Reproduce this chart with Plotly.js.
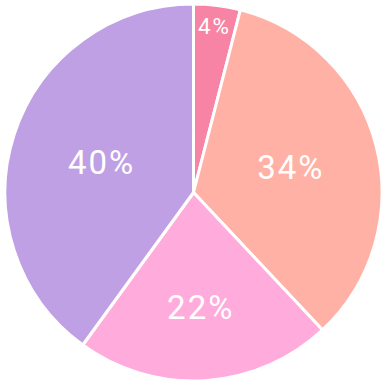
<!DOCTYPE html>
<html><head><meta charset="utf-8">
<script src="https://cdn.plot.ly/plotly-3.0.1.min.js"></script>
<style>html,body{margin:0;padding:0;background:#fff}#c{width:385px;height:385px}
.slicetext text, text.slicetext{letter-spacing:2px}</style>
</head><body><div id="c"></div>
<script>
const labels = ["A", "B", "C", "D"];
const values = [4, 34, 22, 40];
const colors = ["#f784a5", "#ffb1a6", "#ffabdc", "#c0a0e4"];
const labelSizes = [24, 33, 33, 33];
Plotly.newPlot("c", [{
  type: "pie",
  labels: labels,
  values: values,
  sort: false,
  direction: "clockwise",
  rotation: 0,
  textinfo: "percent",
  texttemplate: "%{percent:.0%}",
  textposition: "inside",
  insidetextorientation: "horizontal",
  textfont: {family: "Roboto", size: labelSizes, color: "#ffffff"},
  marker: {colors: colors, line: {color: "#ffffff", width: 3}},
  hoverinfo: "none"
}], {
  width: 385, height: 385,
  margin: {l: 5, r: 3, t: 3, b: 3},
  showlegend: false,
  paper_bgcolor: "#ffffff"
}, {staticPlot: true});
</script></body></html>
